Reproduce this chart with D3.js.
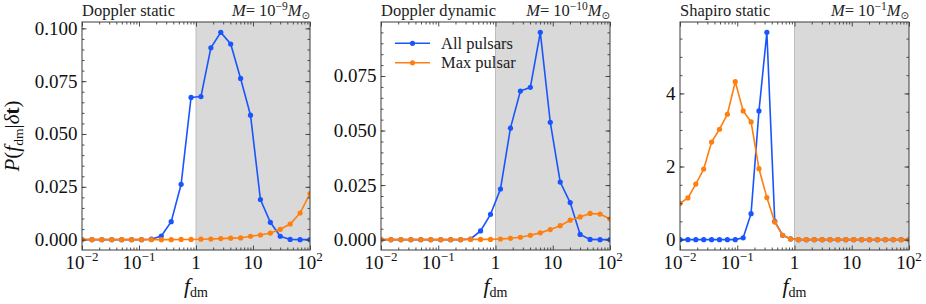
<!DOCTYPE html>
<html>
<head>
<meta charset="utf-8">
<script src="https://cdn.jsdelivr.net/npm/d3@7"></script>
<style>
  body { margin: 0; background: #fff; }
  svg { display: block; }
  svg text { font-family: 'Liberation Serif', 'DejaVu Serif', serif; }
</style>
</head>
<body>
<svg id="chart" width="926" height="304"></svg>
<script>
// x grids (log-spaced f_dm samples)
const xsDoppler = [0.01, 0.014925, 0.022275, 0.033245, 0.049619, 0.074057, 0.110532, 0.164971,
  0.24622, 0.367489, 0.548481, 0.818614, 1.221586, 1.823239, 2.72118, 4.061383,
  6.06167, 9.047034, 13.50281, 20.15338, 30.07893, 44.89343, 67.00432, 100];
const xsShapiro = [0.01, 0.013738, 0.018874, 0.025929, 0.035622, 0.048939, 0.067233, 0.092366,
  0.126896, 0.174332, 0.239503, 0.329034, 0.452035, 0.621017, 0.853168, 1.172102,
  1.610262, 2.212216, 3.039195, 4.175332, 5.736153, 7.880463, 10.82632, 14.87352,
  20.4336, 28.07216, 38.5662, 52.98316, 72.78954, 100];

// series values
const staticAll = [0, 0, 0, 0, 0, 0, 0, 0.0002, 0.0017, 0.0085, 0.0262, 0.0673,
  0.0677, 0.0908, 0.0981, 0.0926, 0.0763, 0.0589, 0.0190, 0.0082, 0.0016, 0.0001, 0, 0];
const staticMax = [0, 0, 0, 0, 0, 0, 0, 0, 0, 0, 0.0001, 0.0001,
  0.0002, 0.0003, 0.0005, 0.0007, 0.0008, 0.0016, 0.0022, 0.0031, 0.0049, 0.0074, 0.0126, 0.0218];
const dynamicAll = [0, 0, 0, 0, 0, 0, 0, 0, 0, 0.0003, 0.0040, 0.0116,
  0.0232, 0.0511, 0.0681, 0.0698, 0.0950, 0.0538, 0.0264, 0.0170, 0.0024, 0.0001, 0, 0];
const dynamicMax = [0, 0, 0, 0, 0, 0, 0, 0, 0, 0.0001, 0.0001, 0.0001,
  0.0003, 0.0006, 0.0011, 0.0020, 0.0031, 0.0046, 0.0064, 0.0089, 0.0104, 0.0120, 0.0117, 0.0095];
const shapiroAll = [0, 0, 0, 0, 0, 0, 0, 0, 0.05, 0.71, 3.52, 5.67, 0.5, 0.12, 0.02,
  0, 0, 0, 0, 0, 0, 0, 0, 0, 0, 0, 0, 0, 0, 0];
const shapiroMax = [0.99, 1.14, 1.52, 1.93, 2.67, 3.02, 3.43, 4.32, 3.52, 3.22, 1.94, 1.15, 0.48, 0.12, 0.02,
  0, 0, 0, 0, 0, 0, 0, 0, 0, 0, 0, 0, 0, 0, 0];

// ticks and labels
const xTicks = [0.01, 0.1, 1, 10, 100];
const xTickBase = ['10', '10', '1', '10', '10'];
const xTickExp = ['\u22122', '\u22121', '', '', '2'];
const yTicksSmall = [0, 0.025, 0.05, 0.075, 0.1];
const yTickLabelsSmall = ['0.000', '0.025', '0.050', '0.075', '0.100'];
const yTicksShapiro = [0, 2, 4];
const yTickLabelsShapiro = ['0', '2', '4'];
const titles = ['Doppler static', 'Doppler dynamic', 'Shapiro static'];
const massExp = ['\u22129', '\u221210', '\u22121'];
const seriesNames = ['All pulsars', 'Max pulsar'];

const FONT = "Liberation Serif, DejaVu Serif, serif";
const BLUE = '#1955ff';
const ORANGE = '#ff7f0e';
const SPINE = '#3c3c3c';
const TOP = 22, BOTTOM = 250;

const panels = [
  { left: 82, right: 310, xs: xsDoppler, all: staticAll, max: staticMax,
    yTicks: yTicksSmall, yLabels: yTickLabelsSmall, yMinor: 0.005 },
  { left: 381, right: 610, xs: xsDoppler, all: dynamicAll, max: dynamicMax,
    yTicks: yTicksSmall, yLabels: yTickLabelsSmall, yMinor: 0.005, legend: true },
  { left: 680, right: 909, xs: xsShapiro, all: shapiroAll, max: shapiroMax,
    yTicks: yTicksShapiro, yLabels: yTickLabelsShapiro, yMinor: 0.5 }
];

const svg = d3.select('#chart').attr('font-family', FONT);
svg.append('rect').attr('width', 926).attr('height', 304).attr('fill', '#fff');

function rich(sel, parts) {
  sel.attr('font-family', FONT);
  parts.forEach((pt) => {
    const ts = sel.append('tspan').text(pt.t);
    if (pt.i) ts.attr('font-style', 'italic');
    if (pt.b) ts.attr('font-weight', 'bold');
    if (pt.size) ts.attr('font-size', pt.size);
    if (pt.dy) ts.attr('dy', pt.dy);
    if (pt.font) ts.attr('font-family', pt.font);
  });
}

const minorX = [];
[0.01, 0.1, 1, 10].forEach((d) => { for (let k = 2; k < 10; k++) minorX.push(d * k); });

panels.forEach((p, pi) => {
  const x = d3.scaleLog().domain([0.01, 100]).range([p.left, p.right]);
  const ymax = d3.max(p.all.concat(p.max));
  const pad = ymax * 0.05;
  const y = d3.scaleLinear().domain([-pad, ymax + pad]).range([BOTTOM, TOP]);
  const g = svg.append('g');

  const clipId = 'clip' + pi;
  svg.append('clipPath').attr('id', clipId)
    .append('rect').attr('x', p.left).attr('y', TOP)
    .attr('width', p.right - p.left).attr('height', BOTTOM - TOP);

  // shaded f_dm > 1 region
  g.append('rect')
    .attr('x', x(1)).attr('y', TOP)
    .attr('width', x(100) - x(1)).attr('height', BOTTOM - TOP)
    .attr('fill', '#d9d9d9');
  g.append('line')
    .attr('x1', x(1)).attr('x2', x(1)).attr('y1', TOP).attr('y2', BOTTOM)
    .attr('stroke', '#bdbdbd').attr('stroke-width', 1);

  // series
  const plot = g.append('g').attr('clip-path', `url(#${clipId})`);
  [[p.all, BLUE], [p.max, ORANGE]].forEach(([vals, color]) => {
    const pts = p.xs.map((xv, i) => [xv, vals[i]]);
    plot.append('path').datum(pts)
      .attr('d', d3.line().x((d) => x(d[0])).y((d) => y(d[1])))
      .attr('fill', 'none').attr('stroke', color).attr('stroke-width', 1.6);
    plot.append('g').selectAll('circle').data(pts).join('circle')
      .attr('cx', (d) => x(d[0])).attr('cy', (d) => y(d[1]))
      .attr('r', 2.6).attr('fill', color);
  });

  // ticks, all four sides, inward
  const yMinor = d3.range(0, y.domain()[1], p.yMinor);
  const yMajor = p.yTicks.filter((v) => v <= y.domain()[1]);
  const tickStyle = (s) => {
    s.select('.domain').remove();
    s.selectAll('line').attr('stroke', SPINE).attr('stroke-width', 0.9);
  };
  g.append('g').attr('transform', `translate(0,${BOTTOM})`)
    .call(d3.axisBottom(x).tickValues(xTicks).tickSize(-4.5).tickFormat('')).call(tickStyle);
  g.append('g').attr('transform', `translate(0,${BOTTOM})`)
    .call(d3.axisBottom(x).tickValues(minorX).tickSize(-2.5).tickFormat('')).call(tickStyle);
  g.append('g').attr('transform', `translate(0,${TOP})`)
    .call(d3.axisTop(x).tickValues(xTicks).tickSize(-4.5).tickFormat('')).call(tickStyle);
  g.append('g').attr('transform', `translate(0,${TOP})`)
    .call(d3.axisTop(x).tickValues(minorX).tickSize(-2.5).tickFormat('')).call(tickStyle);
  g.append('g').attr('transform', `translate(${p.left},0)`)
    .call(d3.axisLeft(y).tickValues(yMajor).tickSize(-4.5).tickFormat('')).call(tickStyle);
  g.append('g').attr('transform', `translate(${p.left},0)`)
    .call(d3.axisLeft(y).tickValues(yMinor).tickSize(-2.5).tickFormat('')).call(tickStyle);
  g.append('g').attr('transform', `translate(${p.right},0)`)
    .call(d3.axisRight(y).tickValues(yMajor).tickSize(-4.5).tickFormat('')).call(tickStyle);
  g.append('g').attr('transform', `translate(${p.right},0)`)
    .call(d3.axisRight(y).tickValues(yMinor).tickSize(-2.5).tickFormat('')).call(tickStyle);

  // spines
  g.append('rect')
    .attr('x', p.left).attr('y', TOP)
    .attr('width', p.right - p.left).attr('height', BOTTOM - TOP)
    .attr('fill', 'none').attr('stroke', SPINE).attr('stroke-width', 1);

  // x tick labels
  xTicks.forEach((v, i) => {
    const t = g.append('text').attr('x', x(v)).attr('y', 268.5)
      .attr('text-anchor', 'middle').attr('font-size', 19).attr('fill', '#111');
    const parts = [{ t: xTickBase[i] }];
    if (xTickExp[i]) parts.push({ t: xTickExp[i], size: 13, dy: -7.5 });
    rich(t, parts);
  });

  // y tick labels
  yMajor.forEach((v) => {
    g.append('text').attr('x', p.left - 4.5).attr('y', y(v)).attr('dy', '0.34em')
      .attr('font-family', FONT)
      .attr('text-anchor', 'end').attr('font-size', 19).attr('fill', '#111')
      .text(p.yLabels[p.yTicks.indexOf(v)]);
  });

  // x label
  const xl = g.append('text').attr('x', x(1)).attr('y', 293)
    .attr('text-anchor', 'middle').attr('font-size', 22).attr('fill', '#111');
  rich(xl, [{ t: 'f', i: true }, { t: 'dm', size: 14, dy: 4 }]);

  // titles
  g.append('text').attr('x', p.left).attr('y', 16).attr('font-size', 16.5)
    .attr('font-family', FONT).attr('fill', '#222').text(titles[pi]);
  const ml = g.append('text').attr('x', p.right).attr('y', 16).attr('font-size', 16.5)
    .attr('text-anchor', 'end').attr('fill', '#222');
  rich(ml, [
    { t: 'M', i: true }, { t: '= 10' },
    { t: massExp[pi], size: 11.5, dy: -6 },
    { t: 'M', i: true, dy: 6 },
    { t: '\u2299', size: 10, dy: 3, font: 'DejaVu Sans' }
  ]);

  // legend
  if (p.legend) {
    [BLUE, ORANGE].forEach((c, i) => {
      const ly = 43.3 + i * 19.5;
      g.append('line').attr('x1', 395).attr('x2', 430).attr('y1', ly).attr('y2', ly)
        .attr('stroke', c).attr('stroke-width', 1.6);
      g.append('circle').attr('cx', 412.5).attr('cy', ly).attr('r', 2.6).attr('fill', c);
      g.append('text').attr('x', 441).attr('y', ly + 5.5).attr('font-size', 16.5)
        .attr('font-family', FONT).attr('fill', '#222').text(seriesNames[i]);
    });
  }
});

// y label
const yl = svg.append('text').attr('transform', 'translate(19,136) rotate(-90)')
  .attr('text-anchor', 'middle').attr('font-size', 21).attr('fill', '#111');
rich(yl, [
  { t: 'P', i: true }, { t: '(' }, { t: 'f', i: true },
  { t: 'dm', size: 13.5, dy: 4 }, { t: '|', dy: -4 }, { t: '\u03b4', i: true },
  { t: 't', b: true }, { t: ')' }
]);
</script>
</body>
</html>
